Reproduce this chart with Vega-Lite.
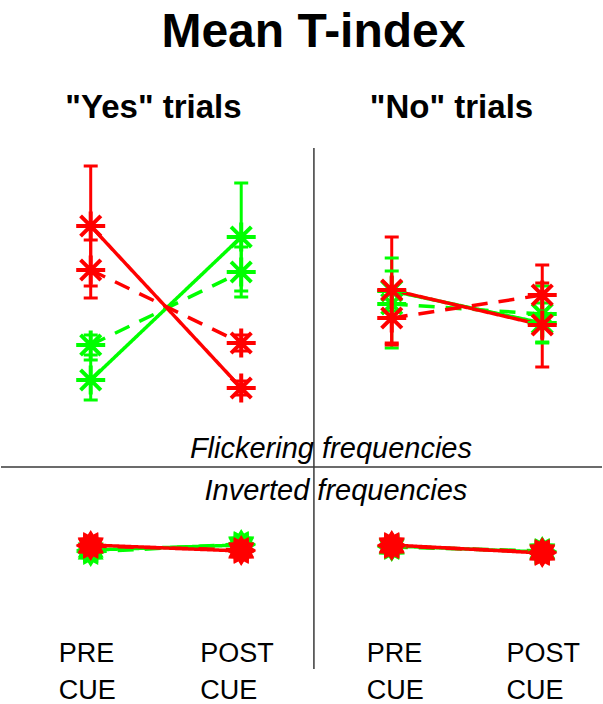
{
  "$schema": "https://vega.github.io/schema/vega-lite/v6.json",
  "width": 603,
  "height": 704,
  "autosize": {"type": "fit", "contains": "padding"},
  "padding": 0,
  "background": "white",
  "config": {"view": {"stroke": null}},
  "datasets": {
    "series": [
      {"panel": "Yes", "row": "Flickering", "color": "green", "style": "dashed", "series": "Y-F-g-d", "cue": "PRE", "x": 1, "y": 0.05, "lo": -0.05, "hi": 0.15},
      {"panel": "Yes", "row": "Flickering", "color": "green", "style": "dashed", "series": "Y-F-g-d", "cue": "POST", "x": 2, "y": 0.78, "lo": 0.53, "hi": 1.03},
      {"panel": "Yes", "row": "Flickering", "color": "green", "style": "solid", "series": "Y-F-g-s", "cue": "PRE", "x": 1, "y": -0.30, "lo": -0.50, "hi": -0.10},
      {"panel": "Yes", "row": "Flickering", "color": "green", "style": "solid", "series": "Y-F-g-s", "cue": "POST", "x": 2, "y": 1.13, "lo": 0.59, "hi": 1.67},
      {"panel": "No", "row": "Flickering", "color": "green", "style": "dashed", "series": "N-F-g-d", "cue": "PRE", "x": 3, "y": 0.46, "lo": 0.02, "hi": 0.92},
      {"panel": "No", "row": "Flickering", "color": "green", "style": "dashed", "series": "N-F-g-d", "cue": "POST", "x": 4, "y": 0.36, "lo": 0.08, "hi": 0.64},
      {"panel": "No", "row": "Flickering", "color": "green", "style": "solid", "series": "N-F-g-s", "cue": "PRE", "x": 3, "y": 0.59, "lo": 0.39, "hi": 0.79},
      {"panel": "No", "row": "Flickering", "color": "green", "style": "solid", "series": "N-F-g-s", "cue": "POST", "x": 4, "y": 0.27, "lo": 0.07, "hi": 0.47},
      {"panel": "Yes", "row": "Inverted", "color": "green", "style": "dashed", "series": "Y-I-g-d", "cue": "PRE", "x": 1, "y": -2.02, "lo": -2.06, "hi": -1.98},
      {"panel": "Yes", "row": "Inverted", "color": "green", "style": "dashed", "series": "Y-I-g-d", "cue": "POST", "x": 2, "y": -1.94, "lo": -1.98, "hi": -1.90},
      {"panel": "Yes", "row": "Inverted", "color": "green", "style": "solid", "series": "Y-I-g-s", "cue": "PRE", "x": 1, "y": -2.00, "lo": -2.04, "hi": -1.96},
      {"panel": "Yes", "row": "Inverted", "color": "green", "style": "solid", "series": "Y-I-g-s", "cue": "POST", "x": 2, "y": -1.95, "lo": -1.99, "hi": -1.91},
      {"panel": "No", "row": "Inverted", "color": "green", "style": "dashed", "series": "N-I-g-d", "cue": "PRE", "x": 3, "y": -1.97, "lo": -2.01, "hi": -1.93},
      {"panel": "No", "row": "Inverted", "color": "green", "style": "dashed", "series": "N-I-g-d", "cue": "POST", "x": 4, "y": -2.01, "lo": -2.05, "hi": -1.97},
      {"panel": "No", "row": "Inverted", "color": "green", "style": "solid", "series": "N-I-g-s", "cue": "PRE", "x": 3, "y": -1.96, "lo": -2.00, "hi": -1.92},
      {"panel": "No", "row": "Inverted", "color": "green", "style": "solid", "series": "N-I-g-s", "cue": "POST", "x": 4, "y": -2.02, "lo": -2.06, "hi": -1.98},
      {"panel": "Yes", "row": "Flickering", "color": "red", "style": "dashed", "series": "Y-F-r-d", "cue": "PRE", "x": 1, "y": 0.80, "lo": 0.52, "hi": 1.10},
      {"panel": "Yes", "row": "Flickering", "color": "red", "style": "dashed", "series": "Y-F-r-d", "cue": "POST", "x": 2, "y": 0.07, "lo": -0.01, "hi": 0.15},
      {"panel": "Yes", "row": "Flickering", "color": "red", "style": "solid", "series": "Y-F-r-s", "cue": "PRE", "x": 1, "y": 1.24, "lo": 0.64, "hi": 1.84},
      {"panel": "Yes", "row": "Flickering", "color": "red", "style": "solid", "series": "Y-F-r-s", "cue": "POST", "x": 2, "y": -0.38, "lo": -0.45, "hi": -0.31},
      {"panel": "No", "row": "Flickering", "color": "red", "style": "dashed", "series": "N-F-r-d", "cue": "PRE", "x": 3, "y": 0.32, "lo": 0.05, "hi": 0.59},
      {"panel": "No", "row": "Flickering", "color": "red", "style": "dashed", "series": "N-F-r-d", "cue": "POST", "x": 4, "y": 0.55, "lo": 0.25, "hi": 0.85},
      {"panel": "No", "row": "Flickering", "color": "red", "style": "solid", "series": "N-F-r-s", "cue": "PRE", "x": 3, "y": 0.60, "lo": 0.07, "hi": 1.13},
      {"panel": "No", "row": "Flickering", "color": "red", "style": "solid", "series": "N-F-r-s", "cue": "POST", "x": 4, "y": 0.25, "lo": -0.17, "hi": 0.67},
      {"panel": "Yes", "row": "Inverted", "color": "red", "style": "dashed", "series": "Y-I-r-d", "cue": "PRE", "x": 1, "y": -1.96, "lo": -2.00, "hi": -1.92},
      {"panel": "Yes", "row": "Inverted", "color": "red", "style": "dashed", "series": "Y-I-r-d", "cue": "POST", "x": 2, "y": -2.00, "lo": -2.04, "hi": -1.96},
      {"panel": "Yes", "row": "Inverted", "color": "red", "style": "solid", "series": "Y-I-r-s", "cue": "PRE", "x": 1, "y": -1.95, "lo": -1.99, "hi": -1.91},
      {"panel": "Yes", "row": "Inverted", "color": "red", "style": "solid", "series": "Y-I-r-s", "cue": "POST", "x": 2, "y": -2.01, "lo": -2.05, "hi": -1.97},
      {"panel": "No", "row": "Inverted", "color": "red", "style": "dashed", "series": "N-I-r-d", "cue": "PRE", "x": 3, "y": -1.96, "lo": -2.00, "hi": -1.92},
      {"panel": "No", "row": "Inverted", "color": "red", "style": "dashed", "series": "N-I-r-d", "cue": "POST", "x": 4, "y": -2.02, "lo": -2.06, "hi": -1.98},
      {"panel": "No", "row": "Inverted", "color": "red", "style": "solid", "series": "N-I-r-s", "cue": "PRE", "x": 3, "y": -1.95, "lo": -1.99, "hi": -1.91},
      {"panel": "No", "row": "Inverted", "color": "red", "style": "solid", "series": "N-I-r-s", "cue": "POST", "x": 4, "y": -2.03, "lo": -2.07, "hi": -1.99}
    ],
    "dividers": [
      {"x": 2.483, "y": 2.02, "x2": 2.483, "y2": -3.19},
      {"x": 0.404, "y": -1.17, "x2": 4.397, "y2": -1.17}
    ],
    "labels": [
      {"kind": "title", "text": "Mean T-index", "x": 2.48, "y": 3.03},
      {"kind": "header", "text": "\"Yes\" trials", "x": 1.417, "y": 2.32},
      {"kind": "header", "text": "\"No\" trials", "x": 3.397, "y": 2.32},
      {"kind": "row", "text": "Flickering frequencies", "x": 2.596, "y": -1.08},
      {"kind": "row", "text": "Inverted frequencies", "x": 2.629, "y": -1.50},
      {"kind": "cue", "text": "PRE", "x": 0.788, "y": -3.12},
      {"kind": "cue", "text": "CUE", "x": 0.788, "y": -3.49},
      {"kind": "cue", "text": "POST", "x": 1.728, "y": -3.12},
      {"kind": "cue", "text": "CUE", "x": 1.728, "y": -3.49},
      {"kind": "cue", "text": "PRE", "x": 2.834, "y": -3.12},
      {"kind": "cue", "text": "CUE", "x": 2.834, "y": -3.49},
      {"kind": "cue", "text": "POST", "x": 3.762, "y": -3.12},
      {"kind": "cue", "text": "CUE", "x": 3.762, "y": -3.49}
    ]
  },
  "encoding": {
    "x": {"field": "x", "type": "quantitative", "axis": null, "scale": {"domain": [0.404, 4.397], "nice": false, "zero": false}},
    "y": {"field": "y", "type": "quantitative", "axis": null, "scale": {"domain": [-3.54, 3.5], "nice": false, "zero": false}}
  },
  "layer": [
    {
      "data": {"name": "dividers"},
      "mark": {"type": "rule", "stroke": "#3a3a3a", "strokeWidth": 1.5},
      "encoding": {"x2": {"field": "x2"}, "y2": {"field": "y2"}}
    },
    {
      "data": {"name": "labels"},
      "transform": [{"filter": "datum.kind === 'title'"}],
      "mark": {"type": "text", "font": "Liberation Sans", "fontWeight": "bold", "fontSize": 48, "align": "center", "baseline": "alphabetic", "color": "black"},
      "encoding": {"text": {"field": "text"}}
    },
    {
      "data": {"name": "labels"},
      "transform": [{"filter": "datum.kind === 'header'"}],
      "mark": {"type": "text", "font": "Liberation Sans", "fontWeight": "bold", "fontSize": 33, "align": "center", "baseline": "alphabetic", "color": "black"},
      "encoding": {"text": {"field": "text"}}
    },
    {
      "data": {"name": "labels"},
      "transform": [{"filter": "datum.kind === 'row'"}],
      "mark": {"type": "text", "font": "Liberation Sans", "fontStyle": "italic", "fontSize": 29, "align": "center", "baseline": "alphabetic", "color": "black"},
      "encoding": {"text": {"field": "text"}}
    },
    {
      "data": {"name": "labels"},
      "transform": [{"filter": "datum.kind === 'cue'"}],
      "mark": {"type": "text", "font": "Liberation Sans", "fontSize": 27, "align": "left", "baseline": "alphabetic", "color": "black"},
      "encoding": {"text": {"field": "text"}}
    },
    {
      "data": {"name": "series"},
      "mark": {"type": "rule", "strokeWidth": 3},
      "encoding": {
        "y": {"field": "lo"},
        "y2": {"field": "hi"},
        "color": {"field": "color", "type": "nominal", "scale": {"domain": ["green", "red"], "range": ["#00ff00", "#ff0000"]}, "legend": null}
      }
    },
    {
      "data": {"name": "series"},
      "mark": {"type": "point", "shape": "M-1,0L1,0", "size": 196, "strokeWidth": 3, "filled": false, "opacity": 1},
      "encoding": {
        "y": {"field": "lo"},
        "color": {"field": "color", "type": "nominal", "legend": null}
      }
    },
    {
      "data": {"name": "series"},
      "mark": {"type": "point", "shape": "M-1,0L1,0", "size": 196, "strokeWidth": 3, "filled": false, "opacity": 1},
      "encoding": {
        "y": {"field": "hi"},
        "color": {"field": "color", "type": "nominal", "legend": null}
      }
    },
    {
      "data": {"name": "series"},
      "mark": {"type": "line", "strokeWidth": 3.5},
      "encoding": {
        "color": {"field": "color", "type": "nominal", "legend": null},
        "strokeDash": {"field": "style", "type": "nominal", "scale": {"domain": ["solid", "dashed"], "range": [[1, 0], [16, 11]]}, "legend": null},
        "detail": {"field": "series"},
        "order": {"field": "x"}
      }
    },
    {
      "data": {"name": "series"},
      "transform": [{"filter": "datum.row === 'Flickering'"}],
      "mark": {"type": "point", "shape": "M-1,0L1,0M0,-1L0,1M-0.7,-0.7L0.7,0.7M-0.7,0.7L0.7,-0.7", "size": 841, "strokeWidth": 4, "filled": false, "opacity": 1},
      "encoding": {
        "color": {"field": "color", "type": "nominal", "legend": null}
      }
    },
    {
      "data": {"name": "series"},
      "transform": [{"filter": "datum.row === 'Inverted'"}],
      "mark": {"type": "point", "shape": "M1,0L.695,.186L.866,.5L.509,.509L.5,.866L.186,.695L0,1L-.186,.695L-.5,.866L-.509,.509L-.866,.5L-.695,.186L-1,0L-.695,-.186L-.866,-.5L-.509,-.509L-.5,-.866L-.186,-.695L0,-1L.186,-.695L.5,-.866L.509,-.509L.866,-.5L.695,-.186Z", "size": 900, "filled": true, "opacity": 1},
      "encoding": {
        "color": {"field": "color", "type": "nominal", "legend": null}
      }
    }
  ]
}
